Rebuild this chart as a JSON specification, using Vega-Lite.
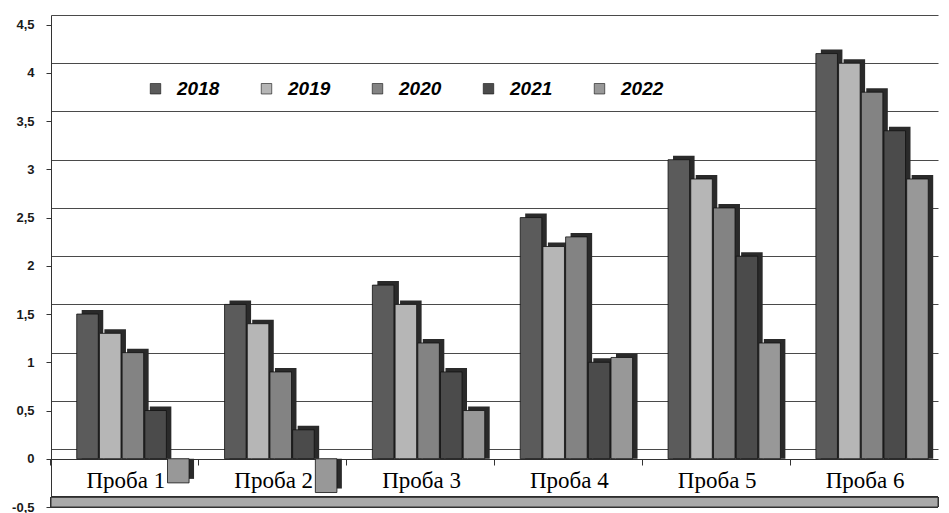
{
  "$schema": "https://vega.github.io/schema/vega-lite/v6.json",
  "width": 887,
  "height": 492,
  "autosize": {"type": "none"},
  "padding": {"left": 51, "top": 15, "right": 11, "bottom": 6},
  "background": "white",
  "config": {"view": {"stroke": null}, "font": "Liberation Sans"},
  "data": {
    "values": [
      {"probe": "Проба 1", "year": "2018", "value": 1.5},
      {"probe": "Проба 1", "year": "2019", "value": 1.3},
      {"probe": "Проба 1", "year": "2020", "value": 1.1},
      {"probe": "Проба 1", "year": "2021", "value": 0.5},
      {"probe": "Проба 1", "year": "2022", "value": -0.25},
      {"probe": "Проба 2", "year": "2018", "value": 1.6},
      {"probe": "Проба 2", "year": "2019", "value": 1.4},
      {"probe": "Проба 2", "year": "2020", "value": 0.9},
      {"probe": "Проба 2", "year": "2021", "value": 0.3},
      {"probe": "Проба 2", "year": "2022", "value": -0.35},
      {"probe": "Проба 3", "year": "2018", "value": 1.8},
      {"probe": "Проба 3", "year": "2019", "value": 1.6},
      {"probe": "Проба 3", "year": "2020", "value": 1.2},
      {"probe": "Проба 3", "year": "2021", "value": 0.9},
      {"probe": "Проба 3", "year": "2022", "value": 0.5},
      {"probe": "Проба 4", "year": "2018", "value": 2.5},
      {"probe": "Проба 4", "year": "2019", "value": 2.2},
      {"probe": "Проба 4", "year": "2020", "value": 2.3},
      {"probe": "Проба 4", "year": "2021", "value": 1.0},
      {"probe": "Проба 4", "year": "2022", "value": 1.05},
      {"probe": "Проба 5", "year": "2018", "value": 3.1},
      {"probe": "Проба 5", "year": "2019", "value": 2.9},
      {"probe": "Проба 5", "year": "2020", "value": 2.6},
      {"probe": "Проба 5", "year": "2021", "value": 2.1},
      {"probe": "Проба 5", "year": "2022", "value": 1.2},
      {"probe": "Проба 6", "year": "2018", "value": 4.2},
      {"probe": "Проба 6", "year": "2019", "value": 4.1},
      {"probe": "Проба 6", "year": "2020", "value": 3.8},
      {"probe": "Проба 6", "year": "2021", "value": 3.4},
      {"probe": "Проба 6", "year": "2022", "value": 2.9}
    ]
  },
  "layer": [
    {
      "mark": {"type": "point", "opacity": 0},
      "encoding": {
        "y": {
          "field": "value",
          "type": "quantitative",
          "scale": {"domain": [-0.6, 4.5], "nice": false, "zero": false},
          "axis": {
            "orient": "right",
            "values": [-0.5, 0, 0.5, 1, 1.5, 2, 2.5, 3, 3.5, 4, 4.5],
            "labels": false,
            "ticks": false,
            "domain": false,
            "title": null,
            "grid": true,
            "gridColor": "#4a4a4a",
            "gridWidth": 1.2
          }
        }
      }
    },
    {
      "layer": [
        {
          "mark": {"type": "rect", "color": "#a9a9a9", "stroke": "#333333", "strokeWidth": 1},
          "encoding": {
            "y": {"datum": -0.5},
            "y2": {"datum": -0.4}
          }
        },
        {
          "mark": {"type": "bar", "color": "#2a2a2a", "yOffset": -4},
          "encoding": {
            "x": {
              "field": "probe",
              "type": "nominal",
              "sort": null,
              "scale": {"paddingInner": 0.24, "paddingOuter": 0.12, "align": 0.865},
              "axis": null
            },
            "xOffset": {"field": "year", "type": "nominal", "scale": {"paddingInner": 0.05}},
            "y": {"field": "value", "type": "quantitative"},
            "y2": {"datum": 0}
          }
        },
        {
          "mark": {"type": "bar", "stroke": "#111111", "strokeWidth": 0.8},
          "encoding": {
            "x": {
              "field": "probe",
              "type": "nominal",
              "sort": null,
              "scale": {"paddingInner": 0.24, "paddingOuter": 0.12, "align": 0.725},
              "axis": {
                "title": null,
                "orient": "bottom",
                "offset": -48,
                "domainColor": "#333333",
                "tickColor": "#333333",
                "bandPosition": -0.229,
                "tickSize": 6,
                "labelAngle": 0,
                "labelAlign": "center",
                "labelOffset": -7,
                "labelFont": "Liberation Serif",
                "labelFontSize": 23,
                "labelColor": "#000000",
                "labelPadding": 4
              }
            },
            "xOffset": {"field": "year", "type": "nominal", "scale": {"paddingInner": 0.05}},
            "y": {
              "field": "value",
              "type": "quantitative",
              "scale": {"domain": [-0.5, 4.6], "nice": false, "zero": false},
              "axis": {
                "orient": "left",
                "title": null,
                "grid": false,
                "values": [-0.5, 0, 0.5, 1, 1.5, 2, 2.5, 3, 3.5, 4, 4.5],
                "labelExpr": "replace(replace(format(datum.value, '.1~f'), '.', ','), '\u2212', '-')",
                "labelFont": "Liberation Sans",
                "labelFontWeight": "bold",
                "labelFontSize": 13,
                "labelColor": "#1a1a1a",
                "tickSize": 5,
                "tickColor": "#333333",
                "domainColor": "#333333",
                "labelPadding": 12
              }
            },
            "y2": {"datum": 0},
            "color": {
              "field": "year",
              "type": "nominal",
              "scale": {
                "domain": ["2018", "2019", "2020", "2021", "2022"],
                "range": ["#5b5b5b", "#b6b6b6", "#838383", "#4b4b4b", "#989898"]
              },
              "legend": {
                "orient": "none",
                "legendX": 95,
                "legendY": 64,
                "direction": "horizontal",
                "columns": 5,
                "title": null,
                "padding": 0,
                "symbolType": "square",
                "symbolSize": 110,
                "symbolStrokeColor": "#111111",
                "symbolStrokeWidth": 0.6,
                "labelFont": "Liberation Sans",
                "labelFontWeight": "bold",
                "labelFontStyle": "italic",
                "labelFontSize": 19,
                "labelColor": "#000000",
                "labelOffset": 12,
                "columnPadding": 37
              }
            }
          }
        }
      ],
      "resolve": {"scale": {"x": "independent", "xOffset": "independent"}}
    }
  ],
  "resolve": {"scale": {"y": "independent", "x": "independent", "xOffset": "independent"}}
}
